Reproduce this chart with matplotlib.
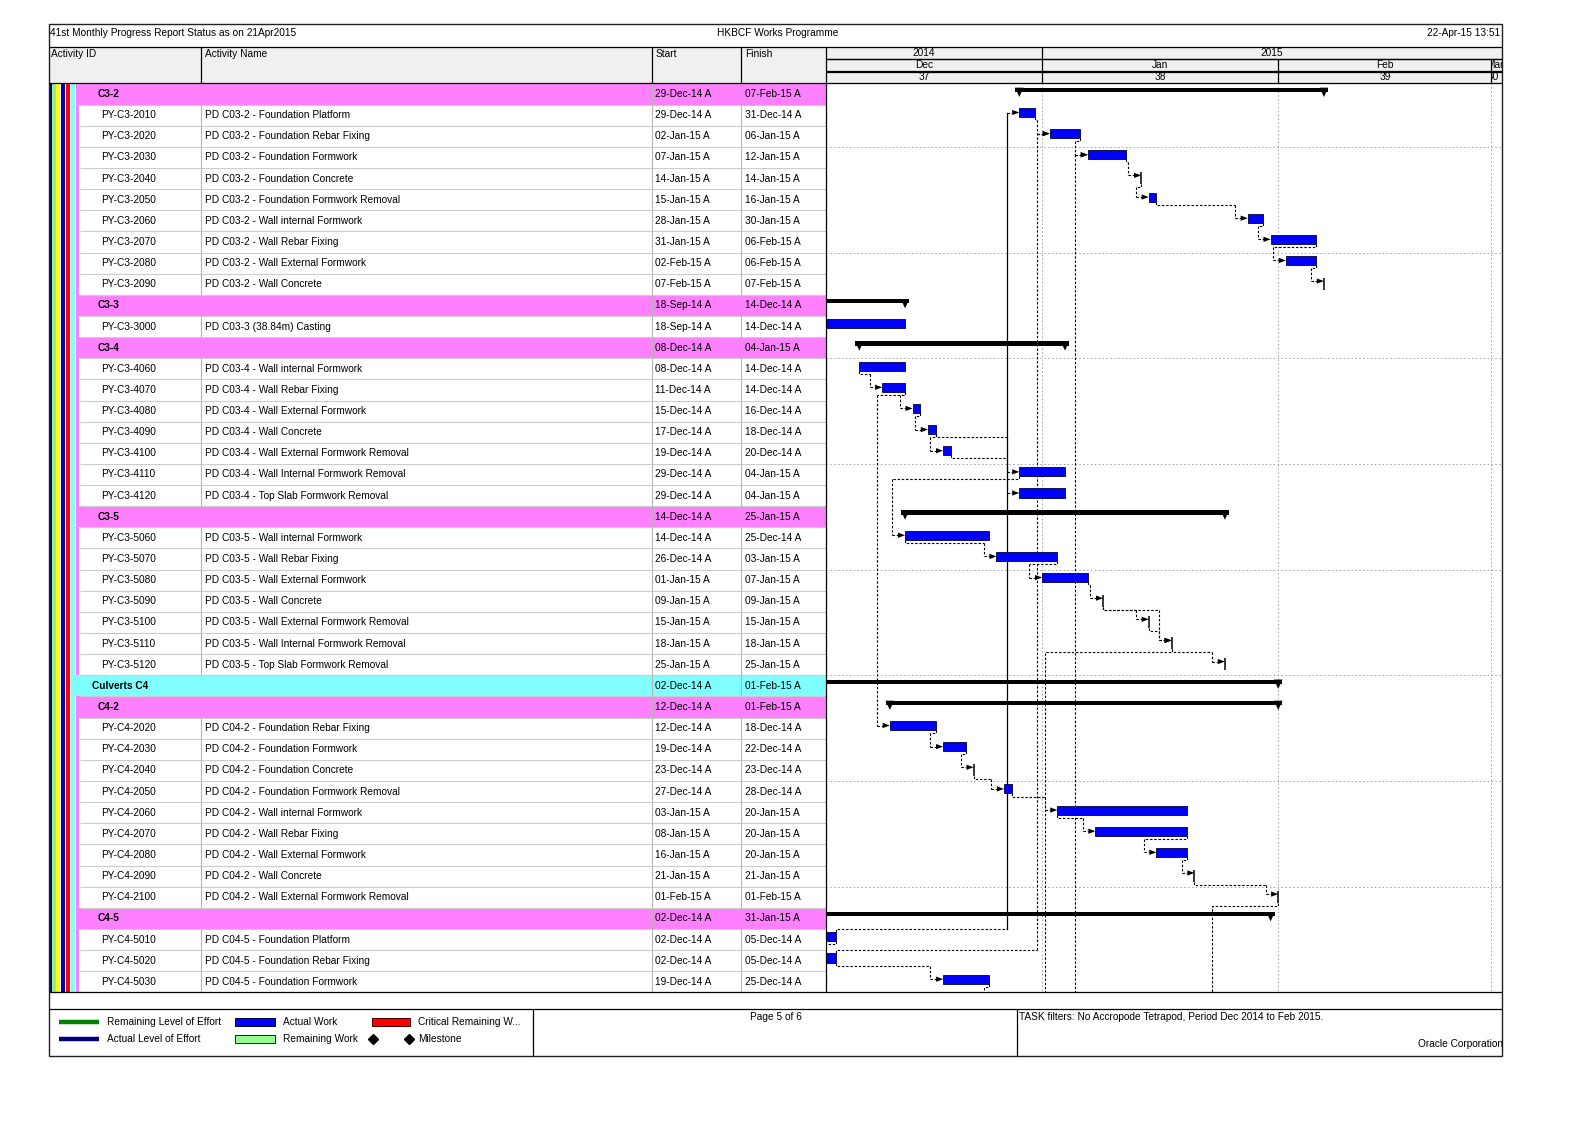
import datetime as dt
import matplotlib.pyplot as plt
import matplotlib.dates as mdates
from matplotlib.patches import Rectangle
from matplotlib.transforms import Bbox, TransformedBbox
from matplotlib import font_manager

plt.rcParams['font.family'] = ['Liberation Sans', 'DejaVu Sans']
avail = {f.name for f in font_manager.fontManager.ttflist}
if 'Liberation Sans Narrow' in avail:
    NARROW = ['Liberation Sans Narrow', 'Liberation Sans', 'DejaVu Sans']
else:
    NARROW = ['Liberation Sans', 'DejaVu Sans']
FS = 7.3

# ---------------- data ----------------
row_kind = (['g2'] + ['t'] * 9 + ['g2', 't', 'g2'] + ['t'] * 7 + ['g2'] + ['t'] * 7
            + ['g1', 'g2'] + ['t'] * 9 + ['g2'] + ['t'] * 3)

act_id = ['C3-2', 'PY-C3-2010', 'PY-C3-2020', 'PY-C3-2030', 'PY-C3-2040', 'PY-C3-2050',
          'PY-C3-2060', 'PY-C3-2070', 'PY-C3-2080', 'PY-C3-2090',
          'C3-3', 'PY-C3-3000',
          'C3-4', 'PY-C3-4060', 'PY-C3-4070', 'PY-C3-4080', 'PY-C3-4090', 'PY-C3-4100',
          'PY-C3-4110', 'PY-C3-4120',
          'C3-5', 'PY-C3-5060', 'PY-C3-5070', 'PY-C3-5080', 'PY-C3-5090', 'PY-C3-5100',
          'PY-C3-5110', 'PY-C3-5120',
          'Culverts C4', 'C4-2', 'PY-C4-2020', 'PY-C4-2030', 'PY-C4-2040', 'PY-C4-2050',
          'PY-C4-2060', 'PY-C4-2070', 'PY-C4-2080', 'PY-C4-2090', 'PY-C4-2100',
          'C4-5', 'PY-C4-5010', 'PY-C4-5020', 'PY-C4-5030']

act_name = ['', 'PD C03-2 - Foundation Platform', 'PD C03-2 - Foundation Rebar Fixing',
            'PD C03-2 - Foundation Formwork', 'PD C03-2 - Foundation Concrete',
            'PD C03-2 - Foundation Formwork Removal', 'PD C03-2 - Wall internal Formwork',
            'PD C03-2 - Wall Rebar Fixing', 'PD C03-2 - Wall External Formwork',
            'PD C03-2 - Wall Concrete',
            '', 'PD C03-3 (38.84m) Casting',
            '', 'PD C03-4 - Wall internal Formwork', 'PD C03-4 - Wall Rebar Fixing',
            'PD C03-4 - Wall External Formwork', 'PD C03-4 - Wall Concrete',
            'PD C03-4 - Wall External Formwork Removal', 'PD C03-4 - Wall Internal Formwork Removal',
            'PD C03-4 - Top Slab Formwork Removal',
            '', 'PD C03-5 - Wall internal Formwork', 'PD C03-5 - Wall Rebar Fixing',
            'PD C03-5 - Wall External Formwork', 'PD C03-5 - Wall Concrete',
            'PD C03-5 - Wall External Formwork Removal', 'PD C03-5 - Wall Internal Formwork Removal',
            'PD C03-5 - Top Slab Formwork Removal',
            '', '', 'PD C04-2 - Foundation Rebar Fixing', 'PD C04-2 - Foundation Formwork',
            'PD C04-2 - Foundation Concrete', 'PD C04-2 - Foundation Formwork Removal',
            'PD C04-2 - Wall internal Formwork', 'PD C04-2 - Wall Rebar Fixing',
            'PD C04-2 - Wall External Formwork', 'PD C04-2 - Wall Concrete',
            'PD C04-2 - Wall External Formwork Removal',
            '', 'PD C04-5 - Foundation Platform', 'PD C04-5 - Foundation Rebar Fixing',
            'PD C04-5 - Foundation Formwork']

start = ['29-Dec-14', '29-Dec-14', '02-Jan-15', '07-Jan-15', '14-Jan-15', '15-Jan-15',
         '28-Jan-15', '31-Jan-15', '02-Feb-15', '07-Feb-15',
         '18-Sep-14', '18-Sep-14',
         '08-Dec-14', '08-Dec-14', '11-Dec-14', '15-Dec-14', '17-Dec-14', '19-Dec-14',
         '29-Dec-14', '29-Dec-14',
         '14-Dec-14', '14-Dec-14', '26-Dec-14', '01-Jan-15', '09-Jan-15', '15-Jan-15',
         '18-Jan-15', '25-Jan-15',
         '02-Dec-14', '12-Dec-14', '12-Dec-14', '19-Dec-14', '23-Dec-14', '27-Dec-14',
         '03-Jan-15', '08-Jan-15', '16-Jan-15', '21-Jan-15', '01-Feb-15',
         '02-Dec-14', '02-Dec-14', '02-Dec-14', '19-Dec-14']

finish = ['07-Feb-15', '31-Dec-14', '06-Jan-15', '12-Jan-15', '14-Jan-15', '16-Jan-15',
          '30-Jan-15', '06-Feb-15', '06-Feb-15', '07-Feb-15',
          '14-Dec-14', '14-Dec-14',
          '04-Jan-15', '14-Dec-14', '14-Dec-14', '16-Dec-14', '18-Dec-14', '20-Dec-14',
          '04-Jan-15', '04-Jan-15',
          '25-Jan-15', '25-Dec-14', '03-Jan-15', '07-Jan-15', '09-Jan-15', '15-Jan-15',
          '18-Jan-15', '25-Jan-15',
          '01-Feb-15', '01-Feb-15', '18-Dec-14', '22-Dec-14', '23-Dec-14', '28-Dec-14',
          '20-Jan-15', '20-Jan-15', '20-Jan-15', '21-Jan-15', '01-Feb-15',
          '31-Jan-15', '05-Dec-14', '05-Dec-14', '25-Dec-14']

# relationships: predecessor, successor, type, driving (solid)
links = [
    ('PY-C4-5010', 'PY-C3-2010', 'FS', True),
    ('PY-C3-2010', 'PY-C3-2020', 'FS', False),
    ('PY-C4-5020', 'PY-C3-2020', 'FS', False),
    ('PY-C3-2020', 'PY-C3-2030', 'FS', False),
    ('PY-C3-2030', 'PY-C3-2040', 'FS', False),
    ('PY-C3-2040', 'PY-C3-2050', 'FS', False),
    ('PY-C3-2050', 'PY-C3-2060', 'FS', False),
    ('PY-C3-2060', 'PY-C3-2070', 'FS', False),
    ('PY-C3-2070', 'PY-C3-2080', 'FS', False),
    ('PY-C3-2080', 'PY-C3-2090', 'FS', False),
    ('PY-C3-4060', 'PY-C3-4070', 'SS', False),
    ('PY-C3-4070', 'PY-C3-4080', 'FS', False),
    ('PY-C3-4070', 'PY-C4-2020', 'FS', False),
    ('PY-C3-4080', 'PY-C3-4090', 'FS', False),
    ('PY-C3-4090', 'PY-C3-4100', 'FS', False),
    ('PY-C3-4090', 'PY-C3-4110', 'FS', False),
    ('PY-C3-4100', 'PY-C3-4120', 'FS', False),
    ('PY-C3-4110', 'PY-C3-5060', 'SS', False),
    ('PY-C3-5060', 'PY-C3-5070', 'SS', False),
    ('PY-C3-5070', 'PY-C3-5080', 'FS', False),
    ('PY-C3-5080', 'PY-C3-5090', 'FS', False),
    ('PY-C3-5090', 'PY-C3-5100', 'FS', False),
    ('PY-C3-5090', 'PY-C3-5110', 'FS', False),
    ('PY-C3-5100', 'PY-C3-5110', 'FS', False),
    ('PY-C3-5110', 'PY-C3-5120', 'FS', False),
    ('PY-C4-2020', 'PY-C4-2030', 'FS', False),
    ('PY-C4-2030', 'PY-C4-2040', 'FS', False),
    ('PY-C4-2040', 'PY-C4-2050', 'FS', False),
    ('PY-C4-2050', 'PY-C4-2060', 'FS', False),
    ('PY-C4-2060', 'PY-C4-2070', 'SS', False),
    ('PY-C4-2070', 'PY-C4-2080', 'FS', False),
    ('PY-C4-2080', 'PY-C4-2090', 'FS', False),
    ('PY-C4-2090', 'PY-C4-2100', 'FS', False),
    ('PY-C4-5010', 'PY-C4-5020', 'FS', False),
    ('PY-C4-5020', 'PY-C4-5030', 'FS', False),
]
# links to / from activities on the next page
off_out = [('PY-C3-5110', '03-Jan-15'), ('PY-C4-2100', '25-Jan-15'), ('PY-C4-5030', '26-Dec-14')]
off_in = ['PY-C3-2030']

years = [('2014', '01-Dec-14', '01-Jan-15'), ('2015', '01-Jan-15', '01-Jan-16')]
months = [('Dec', '37', '01-Dec-14', '01-Jan-15'), ('Jan', '38', '01-Jan-15', '01-Feb-15'),
          ('Feb', '39', '01-Feb-15', '01-Mar-15'), ('Mar', '40', '01-Mar-15', '01-Apr-15')]


def D(s):
    return mdates.date2num(dt.datetime.strptime(s, '%d-%b-%y'))


sta = [D(s) for s in start]
fin = [D(s) for s in finish]
idx = {a: i for i, a in enumerate(act_id)}
N = len(act_id)

# ---------------- layout (working units, scaled onto the canvas) ----------------
W, H = 1568.0, 1109.0
PXD = 7.52      # units per day
PXR = 20.88     # units per row
TOP, BOT = 82.4, 980.0
LEFT, RIGHT, SPLIT = 48, 1483, 816


def box(x0, y0, x1, y1):
    return [x0 / W, 1 - y1 / H, (x1 - x0) / W, (y1 - y0) / H]


fig = plt.figure(figsize=(15.88, 11.23), dpi=100)

axbg = fig.add_axes([0, 0, 1, 1], zorder=0)
axbg.set_xlim(0, W); axbg.set_ylim(H, 0); axbg.axis('off')
axbg.add_patch(Rectangle((LEFT, 46.7), RIGHT - LEFT, TOP - 46.7, color='#f0f0f0', lw=0))

jan1 = D('01-Jan-15')
xl = (jan1 - (1029 - SPLIT) / PXD, jan1 + (RIGHT - 1029) / PXD)

# ---- table ----
axt = fig.add_axes(box(LEFT, TOP, SPLIT, BOT), zorder=2)
axt.set_xlim(LEFT, SPLIT); axt.set_ylim(N, 0); axt.axis('off')
stripes = [(48.0, 51.6, '#000080'), (51.6, 55.0, '#90ee90'), (55.6, 59.2, '#ffff00'),
           (60.6, 63.9, '#0000c0'), (65.5, 68.8, '#ff0000'), (69.8, 73.8, '#80ffff')]
for x0, x1, c in stripes:
    axt.axvspan(x0, x1, color=c, lw=0)
for i, k in enumerate(row_kind):
    if k == 'g1':
        axt.add_patch(Rectangle((73.8, i), SPLIT - 73.8, 1, color='#80ffff', lw=0))
    else:
        axt.add_patch(Rectangle((74.7, i), SPLIT - 74.7 if k == 'g2' else 3.6, 1, color='#ff80ff', lw=0))
    axt.hlines(i + 1, 78.5, SPLIT, color='#cccccc', lw=0.8)
    if k == 't':
        axt.vlines(198, i, i + 1, color='#b4b4b4', lw=0.8)
    axt.vlines([644, 732], i, i + 1, color='#b4b4b4', lw=0.8)
    c = i + 0.5
    if k == 't':
        axt.text(100, c, act_id[i], fontsize=FS, va='center')
        axt.text(202, c, act_name[i], fontsize=FS, va='center')
    else:
        axt.text(96 if k == 'g2' else 91, c, act_id[i], fontsize=FS, va='center',
                 fontweight='bold')
    axt.text(647, c, start[i] + ' A', fontsize=FS, va='center')
    axt.text(736, c, finish[i] + ' A', fontsize=FS, va='center')

# ---- timeline header ----
axh = fig.add_axes(box(SPLIT, 46.7, RIGHT, TOP), zorder=2)
axh.set_xlim(*xl); axh.set_ylim(3, 0); axh.axis('off')
axh.hlines([1, 2], *xl, color='k', lw=0.9)


def cell_text(a, b, row, lab, shift=0.0):
    t = axh.text((a + b) / 2 + shift, row + 0.5, lab, ha='center', va='center',
                 fontsize=FS, family=NARROW)
    t.set_clip_on(True)
    t.set_clip_box(TransformedBbox(Bbox([[a, row], [b, row + 1]]), axh.transData))


axh.vlines(D('01-Jan-15'), 0, 1, color='k', lw=0.9)
for lab, a, b in years:
    a, b = max(D(a), D('01-Dec-14')), min(D(b), xl[1])
    cell_text(a, b, 0, lab)
for lab, num, a, b in months:
    a, b = D(a), min(D(b), xl[1])
    axh.vlines(a, 1, 3, color='k', lw=0.9)
    sh = -0.3 if b - a < 5 else 0.0
    cell_text(a, b, 1, lab, sh)
    cell_text(a, b, 2, num, sh * 1.4)

# ---- gantt chart ----
axc = fig.add_axes(box(SPLIT, TOP, RIGHT, BOT), zorder=2)
axc.set_xlim(*xl); axc.set_ylim(N, 0)
axc.set_xticks([]); axc.set_yticks([])
for s in axc.spines.values():
    s.set_visible(False)

axc.hlines(range(3, N, 5), *xl, color='#a0a0a0', lw=0.7, ls=(0, (1.5, 2.5)), zorder=1)
axc.vlines([D(m[2]) for m in months[1:]], 0, N, color='#a0a0a0', lw=0.7,
           ls=(0, (1.5, 2.5)), zorder=1)

DOT = (0, (2.2, 1.6))
DA = 12.5 / PXD
J = 3.0 / PXR


def zero(i):
    return fin[i] == sta[i]


def edge(i, down):
    c = i + 0.5
    if zero(i):
        return c + 0.26 if down else c - 0.3
    return c + 0.09 if down else c - 0.34


def target_y(i):
    return i + 0.5 - (0.15 if zero(i) else 0.125)


def arrow(x0, x1, y):
    hl, hh = 7.0 / PXD, 2.6 / PXR
    axc.plot([x0, x1 - hl], [y, y], color='k', lw=0.8, ls=DOT, zorder=3)
    axc.fill([x1 - hl, x1, x1 - hl], [y - hh, y, y + hh], color='k', lw=0, zorder=5)


for p, s, kind, solid in links:
    ip, iq = idx[p], idx[s]
    xa = sta[ip] if kind == 'SS' else fin[ip]
    xs = sta[iq]
    xv = xs - DA
    down = iq > ip
    y0 = edge(ip, down)
    yj = y0 + J if down else y0 - J
    yt = target_y(iq)
    axc.plot([xa, xa, xv], [y0, yj, yj], color='k', lw=0.8, ls=DOT, zorder=3)
    axc.plot([xv, xv], [yj, yt], color='k', lw=0.9 if solid else 0.8,
             ls='-' if solid else DOT, zorder=3)
    arrow(xv, xs, yt)

for p, sd in off_out:
    ip = idx[p]
    xv = D(sd) - DA
    y0 = edge(ip, True)
    axc.plot([fin[ip], fin[ip], xv, xv], [y0, y0 + J, y0 + J, N + 1], color='k', lw=0.8,
             ls=DOT, zorder=3)

for s in off_in:
    iq = idx[s]
    xv = sta[iq] - DA
    axc.plot([xv, xv], [N + 1, target_y(iq)], color='k', lw=0.8, ls=DOT, zorder=3)
    arrow(xv, sta[iq], target_y(iq))

hw = 4.2 / PXD
for i, k in enumerate(row_kind):
    c = i + 0.5
    if k == 't':
        if zero(i):
            axc.vlines(sta[i], c - 0.3, c + 0.26, color='k', lw=1.1, zorder=4)
        else:
            axc.barh(c - 0.125, fin[i] - sta[i], left=sta[i], height=0.43, color='#0000ff',
                     edgecolor='#000040', lw=0.6, zorder=4)
    else:
        axc.barh(c - 0.2, fin[i] - sta[i] + 2 * hw, left=sta[i] - hw, height=0.2,
                 color='k', lw=0, zorder=4)
        for x in (sta[i], fin[i]):
            axc.fill([x - hw, x + hw, x], [c - 0.3, c - 0.3, c + 0.14], color='k', lw=0,
                     zorder=4)

# ---- frame, titles, legend ----
axf = fig.add_axes([0, 0, 1, 1], zorder=10)
axf.set_xlim(0, W); axf.set_ylim(H, 0); axf.axis('off')
axf.patch.set_alpha(0)
axf.add_patch(Rectangle((LEFT, 23.7), RIGHT - LEFT, 1043 - 23.7, fill=False, ec='#202020', lw=1))
axf.hlines([46.7, TOP, BOT, 996], LEFT, RIGHT, color='k', lw=0.9)
axf.hlines([58.6, 70.8], SPLIT, RIGHT, color='k', lw=0.9)
axf.vlines([198, 644, 732], 46.7, TOP, color='k', lw=0.9)
axf.vlines(SPLIT, 46.7, BOT, color='k', lw=0.9)
axf.vlines([526, 1004], 996, 1043, color='k', lw=0.9)

axf.text(49, 32.5, '41st Monthly Progress Report Status as on 21Apr2015', fontsize=FS, va='center')
axf.text(768, 32.5, 'HKBCF Works Programme', fontsize=FS, va='center', ha='center')
axf.text(1481, 32.5, '22-Apr-15 13:51', fontsize=FS, va='center', ha='right')
for x, lab in [(50, 'Activity ID'), (202, 'Activity Name'), (647, 'Start'), (736, 'Finish')]:
    axf.text(x, 53.5, lab, fontsize=FS, va='center')

y1, y2 = 1009, 1026
axf.plot([58, 98], [y1, y1], color='#008000', lw=3.2, solid_capstyle='butt')
axf.plot([58, 98], [y2, y2], color='#000080', lw=3.2, solid_capstyle='butt')
axf.text(106, y1, 'Remaining Level of Effort', fontsize=FS, va='center')
axf.text(106, y2, 'Actual Level of Effort', fontsize=FS, va='center')
axf.add_patch(Rectangle((232, y1 - 3.8), 40, 7.6, fc='#0000ff', ec='#000040', lw=0.7))
axf.add_patch(Rectangle((232, y2 - 3.8), 40, 7.6, fc='#90ff90', ec='#003000', lw=0.7))
axf.text(279, y1, 'Actual Work', fontsize=FS, va='center')
axf.text(279, y2, 'Remaining Work', fontsize=FS, va='center')
axf.add_patch(Rectangle((367, y1 - 3.8), 38, 7.6, fc='#ff0000', ec='#400000', lw=0.7))
axf.text(413, y1, 'Critical Remaining W...', fontsize=FS, va='center')
axf.plot([368, 404], [y2, y2], ls='none', marker='D', ms=5, color='k')
axf.text(413, y2, 'Milestone', fontsize=FS, va='center')
axf.text(766, 1004, 'Page 5 of 6', fontsize=FS, va='center', ha='center')
axf.text(1006, 1004, 'TASK filters: No Accropode Tetrapod, Period Dec 2014 to Feb 2015.',
         fontsize=FS, va='center')
axf.text(1484, 1031, 'Oracle Corporation', fontsize=FS, va='center', ha='right')

plt.savefig('out.png', dpi=100)
